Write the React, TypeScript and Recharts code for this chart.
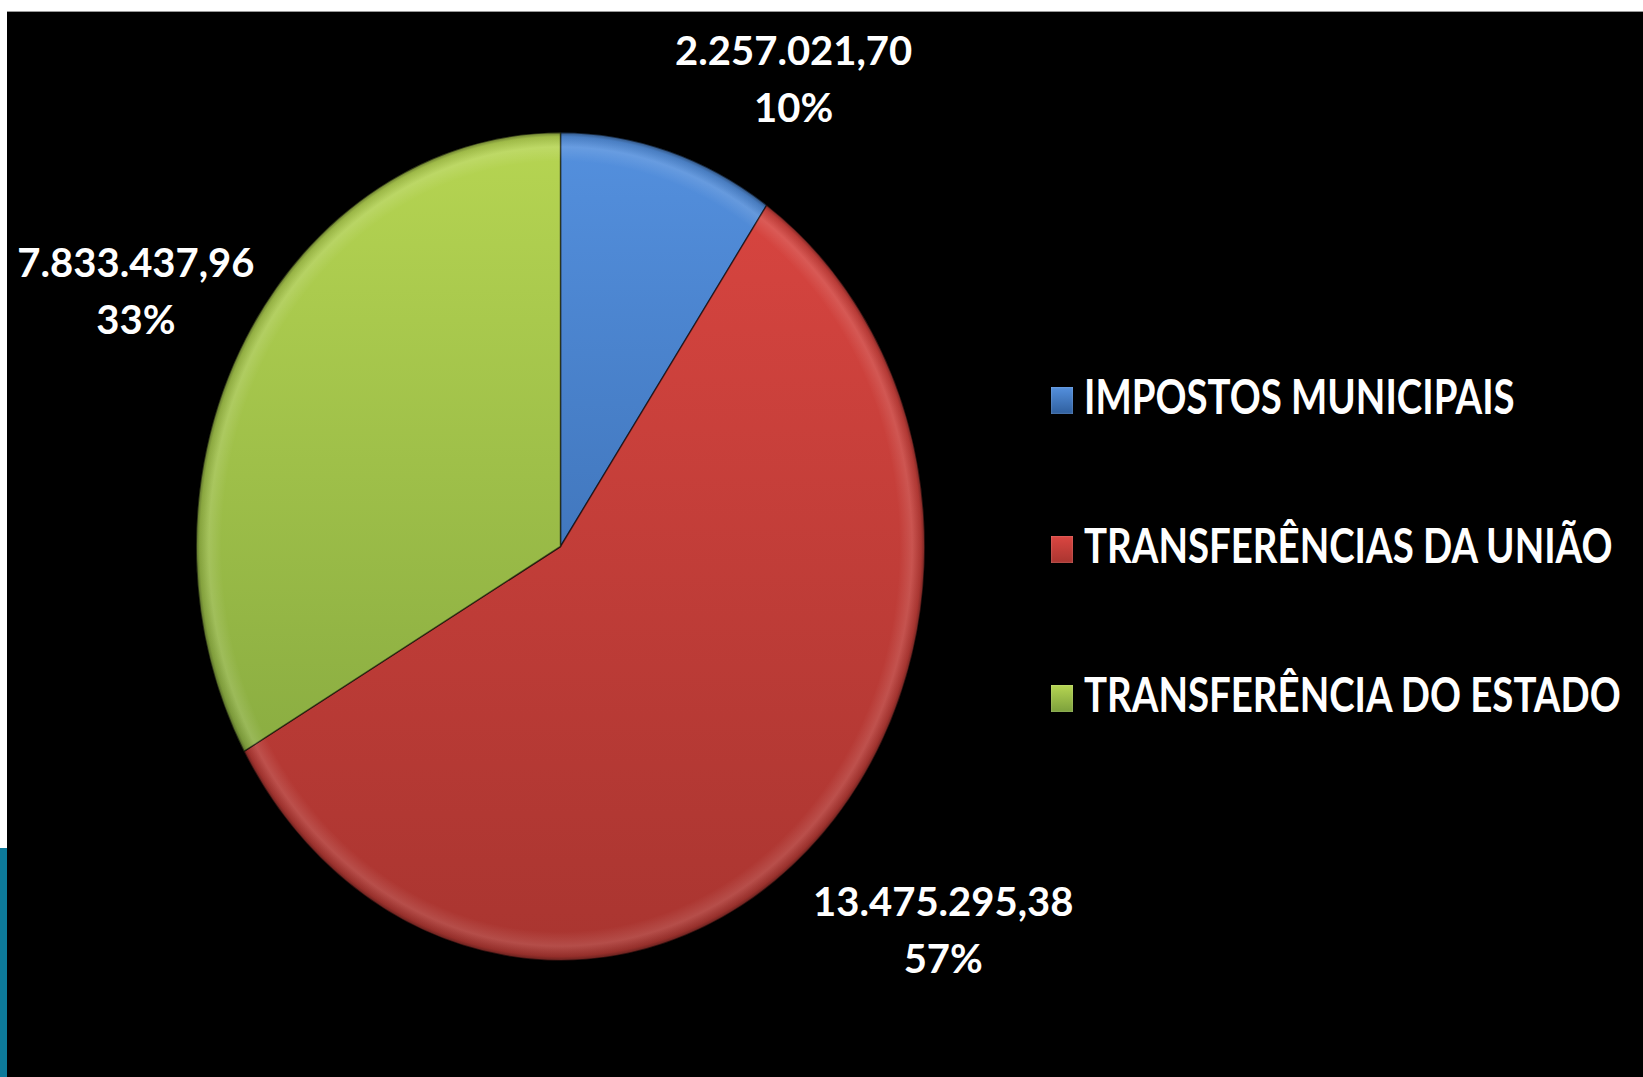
import React from "react";
import { PieChart, Pie, Legend } from "recharts";

// Receita por origem
const categories = [
  "IMPOSTOS MUNICIPAIS",
  "TRANSFERÊNCIAS DA UNIÃO",
  "TRANSFERÊNCIA DO ESTADO",
];
const amounts = [2257021.7, 13475295.38, 7833437.96];

// slice colours: [top, bottom] of the vertical shading
const SHADES = [
  ["#5490de", "#2f5f9e"],
  ["#db4641", "#a93530"],
  ["#b6d552", "#7ca03c"],
];
const MARKER = ["#4a80d0", "#c4403c", "#9bbb59"];

const data = categories.map((name, i) => ({ name, value: amounts[i], fill: MARKER[i] }));

const W = 1643;
const H = 1077;
const CX = 560.5;
const CY = 546.5;
const RY = 414;
const RX_RATIO = 0.88; // tilted pie, drawn as an ellipse
const RAD = Math.PI / 180;
const FONT = "Lato, 'Open Sans', sans-serif";

const pt = (cx: number, cy: number, a: number, r: number) => [
  cx + r * RX_RATIO * Math.cos(a * RAD),
  cy - r * Math.sin(a * RAD),
];

// "13475295.38" -> "13.475.295,38"
const formatBR = (n: number) => {
  const [int, dec] = n.toFixed(2).split(".");
  return int.replace(/\B(?=(\d{3})+(?!\d))/g, ".") + "," + dec;
};

const textWidth = (s: string) =>
  s.split("").reduce((w, ch) => w + (/\d/.test(ch) ? 22 : 10), 0);

const EllipseSlice = (props: any) => {
  const { cx, cy, outerRadius, startAngle, endAngle } = props;
  const name = props.payload?.name ?? props.name;
  const i = Math.max(0, categories.indexOf(name));
  const [x0, y0] = pt(cx, cy, startAngle, outerRadius);
  const [x1, y1] = pt(cx, cy, endAngle, outerRadius);
  const large = Math.abs(startAngle - endAngle) > 180 ? 1 : 0;
  const sweep = startAngle > endAngle ? 1 : 0;
  const rx = outerRadius * RX_RATIO;
  const d = `M${cx},${cy} L${x0},${y0} A${rx},${outerRadius} 0 ${large} ${sweep} ${x1},${y1} Z`;
  return (
    <g>
      <defs>
        <linearGradient
          id={`slice-fill-${i}`}
          gradientUnits="userSpaceOnUse"
          x1={cx}
          y1={cy - outerRadius}
          x2={cx}
          y2={cy + outerRadius}
        >
          <stop offset="0" stopColor={SHADES[i][0]} />
          <stop offset="1" stopColor={SHADES[i][1]} />
        </linearGradient>
        <radialGradient
          id={`slice-rim-${i}`}
          gradientUnits="userSpaceOnUse"
          cx={cx}
          cy={cy}
          r={outerRadius}
          gradientTransform={`translate(${cx} ${cy}) scale(${RX_RATIO} 1) translate(${-cx} ${-cy})`}
        >
          <stop offset="0" stopColor="#fff" stopOpacity={0} />
          <stop offset="0.93" stopColor="#fff" stopOpacity={0} />
          <stop offset="0.965" stopColor="#fff" stopOpacity={0.12} />
          <stop offset="0.99" stopColor="#000" stopOpacity={0.12} />
          <stop offset="1" stopColor="#000" stopOpacity={0.4} />
        </radialGradient>
      </defs>
      <path
        d={d}
        fill={`url(#slice-fill-${i}) ${MARKER[i]}`}
        stroke="rgba(0,0,0,0.55)"
        strokeWidth={1.5}
        strokeLinejoin="round"
      />
      <path d={d} fill={`url(#slice-rim-${i})`} />
    </g>
  );
};

// labels sit just outside the rim, off the slice's mid angle
const renderLabel = (p: any) => {
  const { cx, cy, outerRadius, midAngle, percent, value } = p;
  const [rx, ry] = pt(cx, cy, midAngle, outerRadius);
  const line1 = formatBR(value);
  const w = textWidth(line1);
  const c = Math.cos(midAngle * RAD);
  const s = Math.sin(midAngle * RAD);
  const x = rx + (c >= 0 ? 1 : -1) * (w / 2 + 3.4) + 7.8;
  const yc = ry + 8 - 87 * s + 12 * c;
  const b1 = yc - 15;
  return (
    <text
      x={x}
      y={b1}
      textAnchor="middle"
      fill="#fff"
      fontFamily={FONT}
      fontSize={40}
      fontWeight={700}
    >
      <tspan x={x}>{line1}</tspan>
      <tspan x={x} dy={57}>
        {Math.round(percent * 100)}%
      </tspan>
    </text>
  );
};

const renderLegend = (props: any) => {
  const items = [...(props.payload ?? [])].sort(
    (a: any, b: any) => categories.indexOf(a.value) - categories.indexOf(b.value)
  );
  return (
    <div>
      {items.map((it: any, k: number) => {
        const i = Math.max(0, categories.indexOf(it.value));
        return (
          <div key={k} style={{ position: "relative", height: 149 }}>
            <div
              style={{
                position: "absolute",
                left: 0,
                top: 27,
                width: 22,
                height: 27,
                background: `linear-gradient(180deg, ${SHADES[i][0]}, ${SHADES[i][1]})`,
                boxShadow: "inset 0 0 2px rgba(255,255,255,0.4)",
              }}
            />
            <span
              style={{
                position: "absolute",
                left: 33,
                top: 11.7,
                fontSize: 48,
                lineHeight: "48px",
                fontWeight: 700,
                fontFamily: FONT,
                color: "#fff",
                whiteSpace: "nowrap",
                transform: "scaleX(0.8)",
                transformOrigin: "left",
              }}
            >
              {it.value}
            </span>
          </div>
        );
      })}
    </div>
  );
};

export default function App() {
  return (
    <div
      style={{
        position: "absolute",
        left: 0,
        top: 0,
        width: W,
        height: H,
        background: "#fff",
        overflow: "hidden",
      }}
    >
      <div
        style={{
          position: "absolute",
          left: 7,
          top: 11,
          right: 0,
          bottom: 0,
          background: "#000",
          borderTop: "1px solid #9a9a9a",
        }}
      />
      <div
        style={{
          position: "absolute",
          left: 0,
          top: 848,
          width: 7,
          bottom: 0,
          background: "#0d7a9a",
        }}
      />
      <div style={{ position: "absolute", left: 0, top: 0 }}>
        <PieChart width={W} height={H} margin={{ top: 0, right: 0, bottom: 0, left: 0 }}>
          <Pie
            data={data}
            dataKey="value"
            nameKey="name"
            cx={CX}
            cy={CY}
            outerRadius={RY}
            startAngle={90}
            endAngle={-270}
            stroke="none"
            label={renderLabel}
            labelLine={false}
            shape={EllipseSlice}
            activeShape={EllipseSlice}
            inactiveShape={EllipseSlice}
            isAnimationActive={false}
          />
          <Legend
            layout="vertical"
            verticalAlign="top"
            align="right"
            wrapperStyle={{ left: 1051, top: 360, width: 580 }}
            content={renderLegend}
          />
        </PieChart>
      </div>
    </div>
  );
}
